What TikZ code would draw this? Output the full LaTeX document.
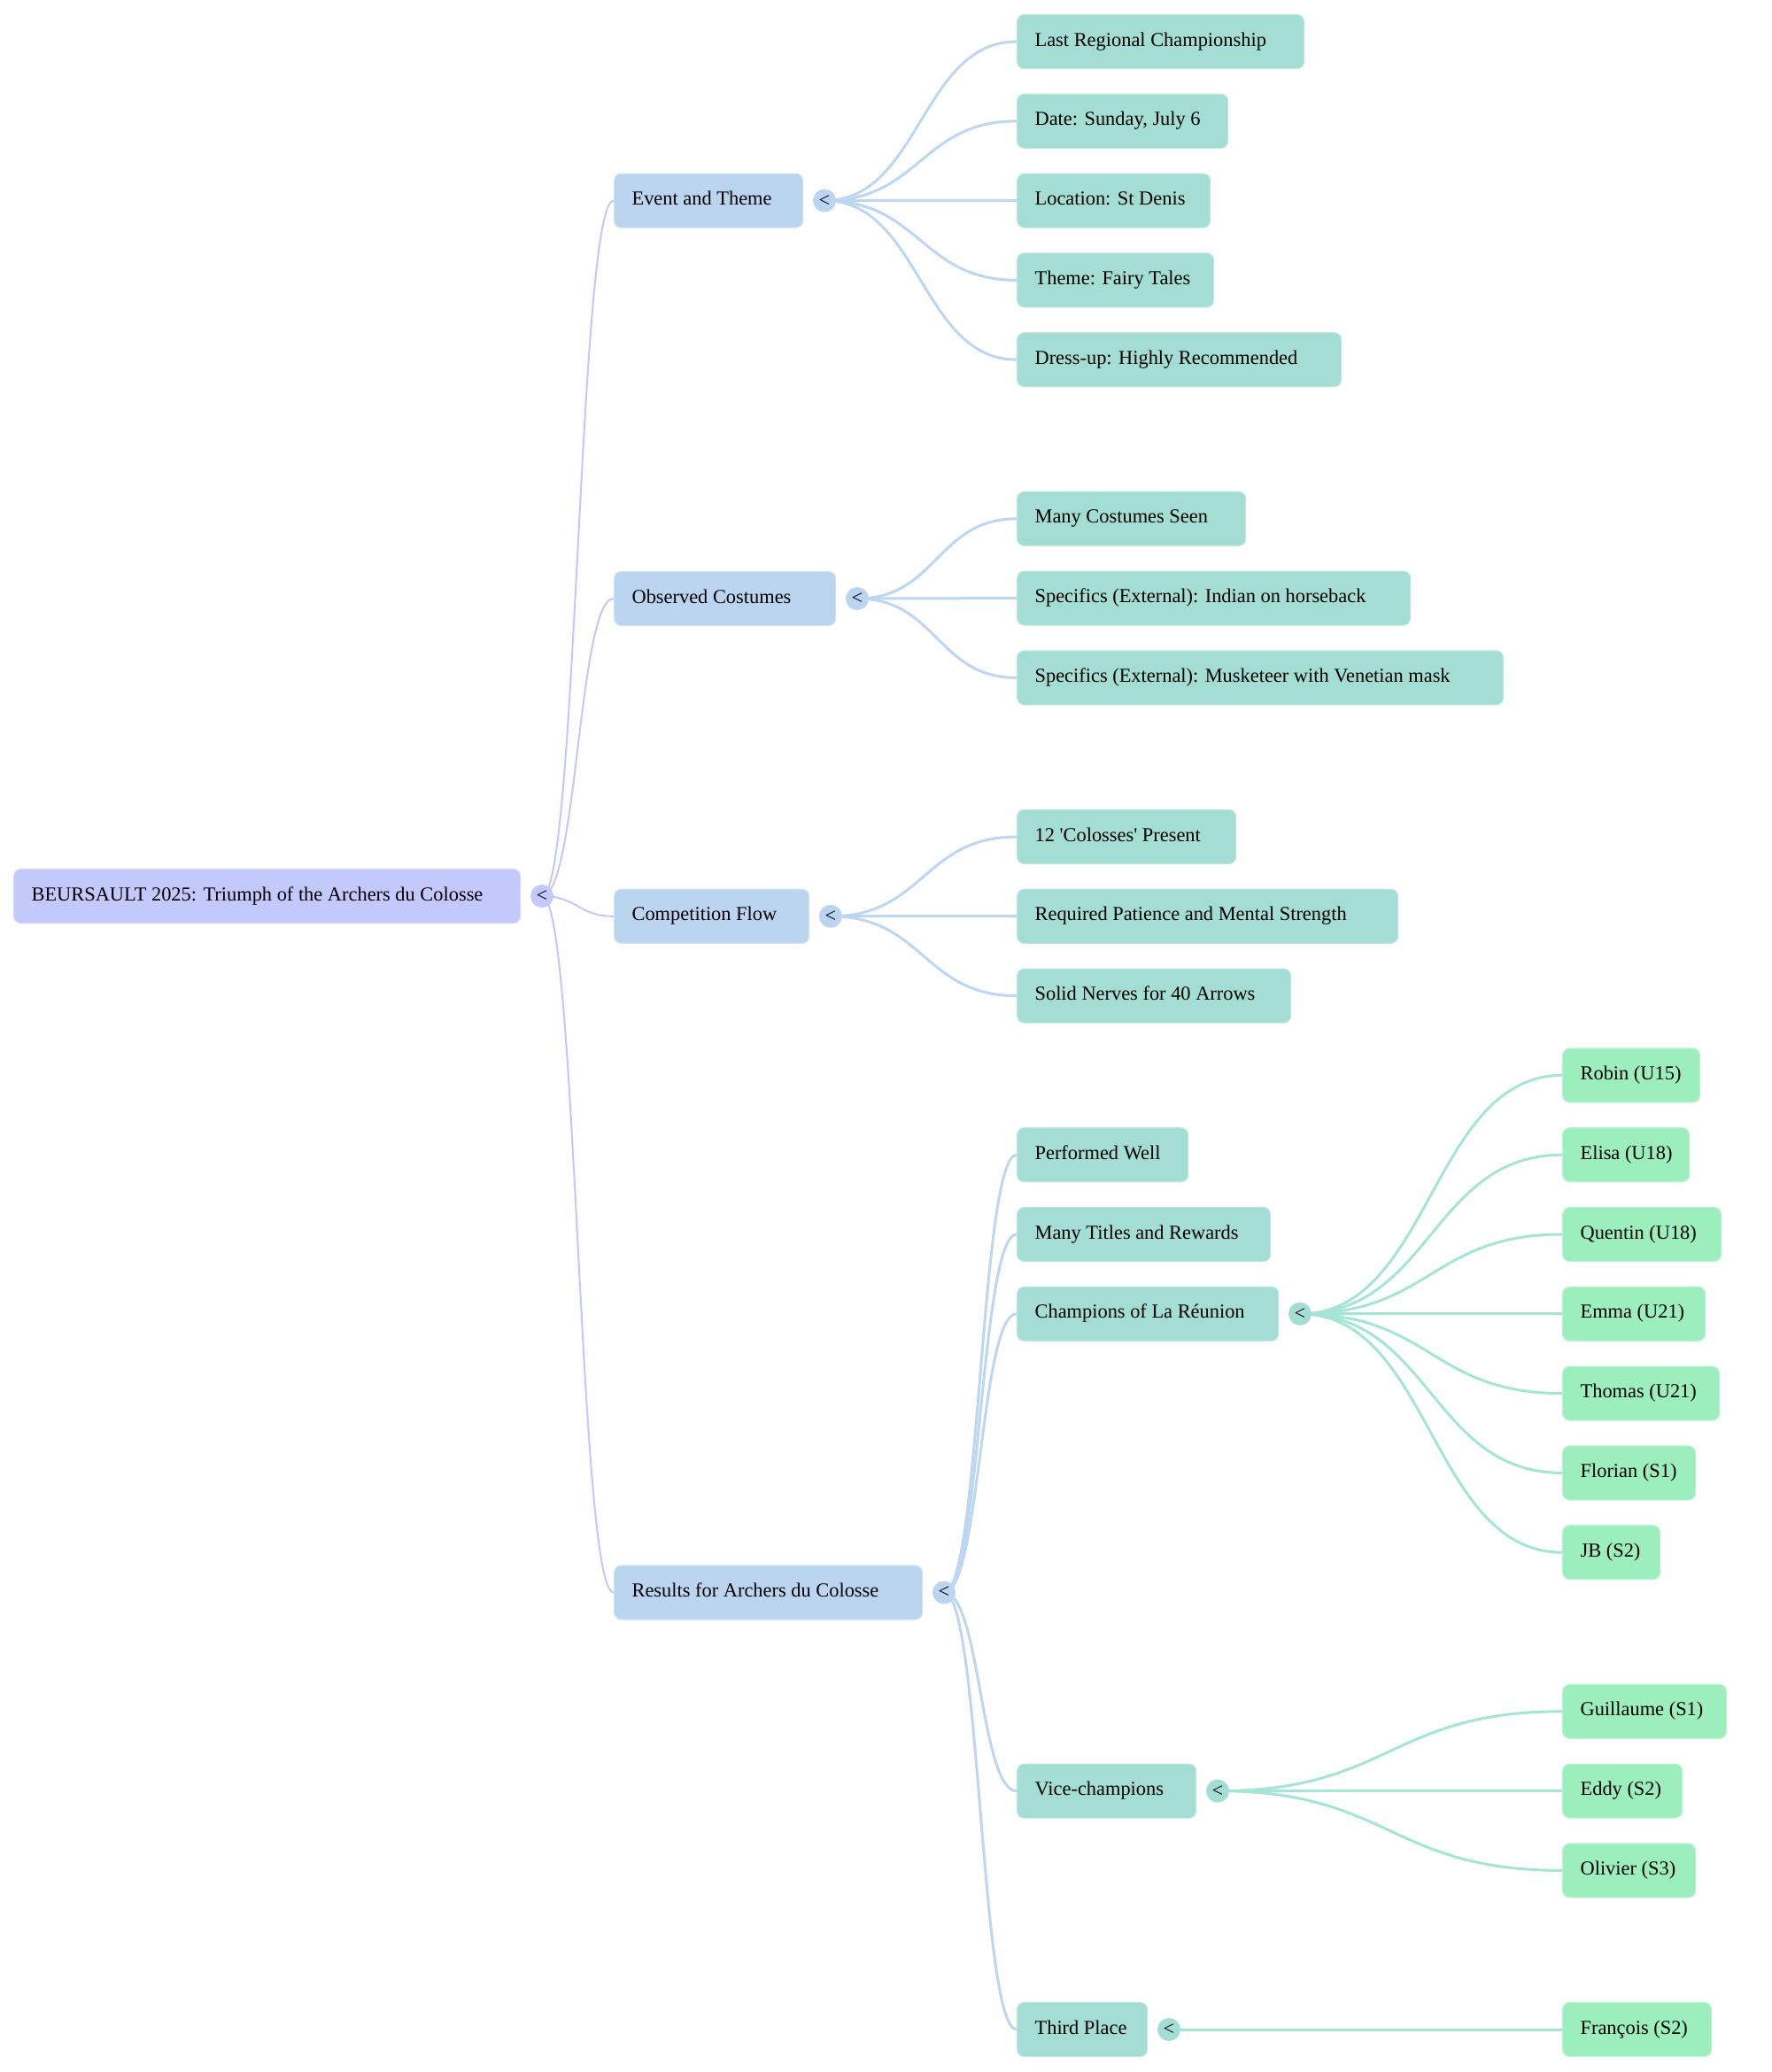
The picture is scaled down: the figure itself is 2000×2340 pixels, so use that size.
\documentclass[tikz,border=0pt]{standalone}
\usepackage{fontspec}
\setmainfont{Liberation Serif}
\newfontfamily\plainqf{Liberation Serif}
\definecolor{c0}{HTML}{C4C9FC}
\definecolor{c1}{HTML}{BBD5F0}
\definecolor{c2}{HTML}{A3DDD3}
\definecolor{c3}{HTML}{9DEEBD}
\definecolor{ec0}{HTML}{C2C8FB}
\definecolor{ec1}{HTML}{BDD6F2}
\definecolor{ec2}{HTML}{A5E5D5}
\pgfdeclarelayer{bg}
\pgfsetlayers{bg,main}
\newcommand\lbx[2]{\makebox[#1pt][l]{#2}}
\begin{document}
\begin{tikzpicture}[x=1pt,y=-1pt,
  box/.style={rectangle, rounded corners=8pt, anchor=west, minimum height=61pt,
    inner xsep=20pt, inner ysep=0pt, line width=1.2pt,
    font=\fontsize{22.4}{26}\selectfont, text height=15pt, text depth=5pt},
  lv0/.style={box, fill=c0, draw=c0!70!white},
  lv1/.style={box, fill=c1, draw=c1!70!white},
  lv2/.style={box, fill=c2, draw=c2!70!white},
  lv3/.style={box, fill=c3, draw=c3!70!white},
  circ/.style={circle, minimum size=26pt, inner sep=0pt, font=\fontsize{22.4}{26}\selectfont},
  ed0/.style={draw=ec0, line width=2pt},
  ed1/.style={draw=ec1, line width=3pt},
  ed2/.style={draw=ec2, line width=3pt}]
\useasboundingbox (0,0) rectangle (2000,2340);

% root
\node[lv0] (root) at (15,1012) {\lbx{532}{BEURSAULT 2025: Triumph of the Archers du Colosse}};
\node[circ, fill=c0] (rootc) at (612,1012) {<};

% level 1
\node[lv1] (event) at (693,226.6) {\lbx{173}{Event and Theme}};
\node[circ, fill=c1] (eventc) at (931,226.6) {<};
\node[lv1] (cost) at (693,676) {\lbx{210}{Observed Costumes}};
\node[circ, fill=c1] (costc) at (968,676) {<};
\node[lv1] (comp) at (693,1034.8) {\lbx{180}{Competition Flow}};
\node[circ, fill=c1] (compc) at (938,1034.8) {<};
\node[lv1] (res) at (693,1798.5) {\lbx{308}{Results for Archers du Colosse}};
\node[circ, fill=c1] (resc) at (1066,1798.5) {<};

% level 2
\node[lv2] (a1) at (1148,47) {\lbx{284}{Last Regional Championship}};
\node[lv2] (a2) at (1148,136.8) {\lbx{198}{Date: Sunday, July 6}};
\node[lv2] (a3) at (1148,226.6) {\lbx{178}{Location: St Denis}};
\node[lv2] (a4) at (1148,316.4) {\lbx{182}{Theme: Fairy Tales}};
\node[lv2] (a5) at (1148,406.2) {\lbx{326}{Dress-up: Highly Recommended}};
\node[lv2] (b1) at (1148,585.8) {\lbx{218}{Many Costumes Seen}};
\node[lv2] (b2) at (1148,675.6) {\lbx{404}{Specifics (External): Indian on horseback}};
\node[lv2] (b3) at (1148,765.4) {\lbx{509}{Specifics (External): Musketeer with Venetian mask}};
\node[lv2] (d1) at (1148,945) {\lbx{207}{\plainqf 12 'Colosses' Present}};
\node[lv2] (d2) at (1148,1034.8) {\lbx{390}{Required Patience and Mental Strength}};
\node[lv2] (d3) at (1148,1124.6) {\lbx{269}{Solid Nerves for 40 Arrows}};
\node[lv2] (r1) at (1148,1304.2) {\lbx{153}{Performed Well}};
\node[lv2] (r2) at (1148,1394) {\lbx{246}{Many Titles and Rewards}};
\node[lv2] (r3) at (1148,1483.8) {\lbx{255}{Champions of La Réunion}};
\node[circ, fill=c2] (r3c) at (1468,1483.8) {<};
\node[lv2] (r4) at (1148,2022.6) {\lbx{162}{Vice-champions}};
\node[circ, fill=c2] (r4c) at (1375,2022.6) {<};
\node[lv2] (r5) at (1148,2292) {\lbx{107}{Third Place}};
\node[circ, fill=c2] (r5c) at (1320,2292) {<};

% level 3
\node[lv3] (p1) at (1764,1214.4) {\lbx{115}{Robin (U15)}};
\node[lv3] (p2) at (1764,1304.2) {\lbx{103}{Elisa (U18)}};
\node[lv3] (p3) at (1764,1394) {\lbx{139}{Quentin (U18)}};
\node[lv3] (p4) at (1764,1483.8) {\lbx{121}{Emma (U21)}};
\node[lv3] (p5) at (1764,1573.6) {\lbx{137}{Thomas (U21)}};
\node[lv3] (p6) at (1764,1663.4) {\lbx{110}{Florian (S1)}};
\node[lv3] (p7) at (1764,1753.2) {\lbx{70}{JB (S2)}};
\node[lv3] (q1) at (1764,1932.8) {\lbx{145}{Guillaume (S1)}};
\node[lv3] (q2) at (1764,2022.6) {\lbx{95}{Eddy (S2)}};
\node[lv3] (q3) at (1764,2112.4) {\lbx{110}{Olivier (S3)}};
\node[lv3] (s1) at (1764,2292) {\lbx{128}{François (S2)}};

\begin{pgfonlayer}{bg}
  \foreach \t in {event,cost,comp,res}
    \draw[ed0] (rootc.center) .. controls +(40,0) and +(-40,0) .. (\t.west);
  \foreach \t in {a1,a2,a3,a4,a5}
    \draw[ed1] (eventc.center) .. controls +(108,0) and +(-108,0) .. (\t.west);
  \foreach \t in {b1,b2,b3}
    \draw[ed1] (costc.center) .. controls +(90,0) and +(-90,0) .. (\t.west);
  \foreach \t in {d1,d2,d3}
    \draw[ed1] (compc.center) .. controls +(105,0) and +(-105,0) .. (\t.west);
  \foreach \t in {r1,r2,r3,r4,r5}
    \draw[ed1] (resc.center) .. controls +(41,0) and +(-41,0) .. (\t.west);
  \foreach \t in {p1,p2,p3,p4,p5,p6,p7}
    \draw[ed2] (r3c.center) .. controls +(148,0) and +(-148,0) .. (\t.west);
  \foreach \t in {q1,q2,q3}
    \draw[ed2] (r4c.center) .. controls +(195,0) and +(-195,0) .. (\t.west);
  \draw[ed2] (r5c.center) -- (s1.west);
\end{pgfonlayer}
\end{tikzpicture}
\end{document}
